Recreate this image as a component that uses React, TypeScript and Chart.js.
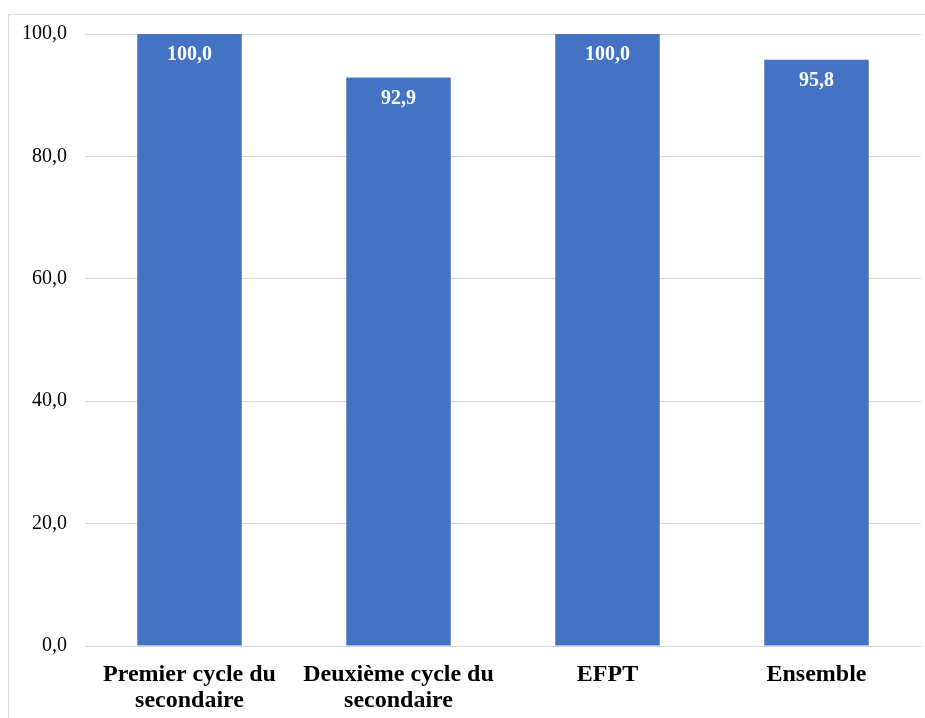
import React, { useEffect, useRef } from "react";
import { Chart, registerables } from "chart.js";

Chart.register(...registerables);

const categories: string[][] = [
  ["Premier cycle du", "secondaire"],
  ["Deuxième cycle du", "secondaire"],
  ["EFPT"],
  ["Ensemble"],
];
const values: number[] = [100.0, 92.9, 100.0, 95.8];
const yTicks: number[] = [0, 20, 40, 60, 80, 100];

const FONT = "'Liberation Serif', 'Times New Roman', serif";
const fmt = (v: number) => v.toFixed(1).replace(".", ",");

const dataLabels = {
  id: "dataLabels",
  afterDatasetsDraw(chart: any) {
    const ctx = chart.ctx;
    const meta = chart.getDatasetMeta(0);
    ctx.save();
    ctx.fillStyle = "#ffffff";
    ctx.font = `bold 20px ${FONT}`;
    ctx.textAlign = "center";
    ctx.textBaseline = "middle";
    meta.data.forEach((bar: any, i: number) => {
      ctx.fillText(fmt(values[i]), bar.x, bar.y + 21);
    });
    ctx.restore();
  },
};

export default function App() {
  const ref = useRef<HTMLCanvasElement | null>(null);
  useEffect(() => {
    if (!ref.current) return;
    const chart = new Chart(ref.current, {
      type: "bar",
      data: {
        labels: categories,
        datasets: [
          {
            data: values,
            backgroundColor: "#4472c4",
            borderWidth: 0,
            categoryPercentage: 1,
            barPercentage: 0.5,
          },
        ],
      },
      options: {
        animation: false,
        responsive: false,
        layout: { padding: { left: 0, right: 4, top: 19, bottom: 0 } },
        plugins: { legend: { display: false }, tooltip: { enabled: false } },
        scales: {
          x: {
            grid: { display: false, drawTicks: false },
            border: { display: true, color: "#d9d9d9", width: 1 },
            ticks: {
              color: "#000000",
              padding: 16,
              maxRotation: 0,
              autoSkip: false,
              font: { family: FONT, size: 24, weight: "bold", lineHeight: "26px" } as any,
            },
            afterFit: (s: any) => {
              s.height = 72;
              s.paddingLeft = 0;
              s.paddingRight = 0;
            },
          },
          y: {
            min: 0,
            max: 100,
            afterBuildTicks: (s: any) => {
              s.ticks = yTicks.map((v) => ({ value: v }));
            },
            grid: { color: "#d9d9d9", drawTicks: false, lineWidth: 1 },
            border: { display: false },
            ticks: {
              color: "#000000",
              padding: 18,
              font: { family: FONT, size: 20 },
              callback: (v: any) => fmt(Number(v)),
            },
            afterFit: (s: any) => {
              s.width = 76;
              s.paddingTop = 0;
              s.paddingBottom = 0;
            },
          },
        },
      },
      plugins: [dataLabels],
    });
    return () => chart.destroy();
  }, []);
  return (
    <div
      style={{
        position: "absolute",
        left: 8,
        top: 14,
        width: 917,
        height: 704,
        borderLeft: "1px solid #d9d9d9",
        borderTop: "1px solid #d9d9d9",
        boxSizing: "border-box",
        background: "#ffffff",
      }}
    >
      <canvas ref={ref} width={916} height={703} style={{ display: "block" }} />
    </div>
  );
}
